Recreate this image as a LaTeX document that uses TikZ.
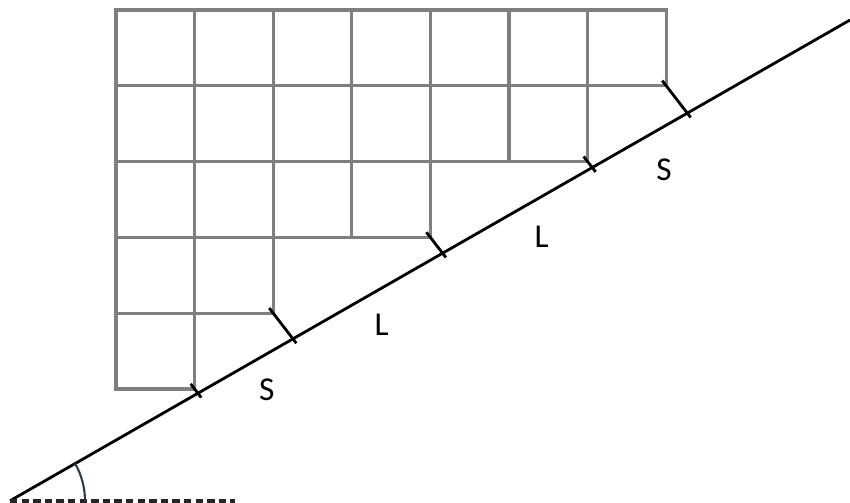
\documentclass[tikz,border=0pt]{standalone}
\usepackage{fontspec}
\setmainfont{Carlito}
\usetikzlibrary{calc}
\definecolor{stairGrey}{HTML}{7F7F7F}
\definecolor{angleSlate}{HTML}{2F3A4C}

\begin{document}
\begin{tikzpicture}[font=\fontsize{9.5}{11}\selectfont,
    cell/.style={draw=stairGrey,line width=0.9pt},
    slope/.style={draw=black,line width=0.8pt},
    marker/.style={draw=black,line width=0.8pt},
    steplabel/.style={inner sep=0pt}]
  \useasboundingbox (0,0) rectangle (8.5,5.02);
  % staircase of unit cells
  \begin{scope}[shift={(1.16,1.13)},x=0.786cm,y=0.758cm]
    \foreach \row/\len in {0/1,1/2,2/4,3/6,4/7}
      \foreach \col in {1,...,\len}
        \draw[cell] (\col-1,\row) rectangle ++(1,1);
    \foreach \n/\cx/\cy in {1/1/0,2/2/1,3/4/2,4/6/3,5/7/4}
      \coordinate (c\n) at (\cx,\cy);
  \end{scope}
  % inclined line and horizontal reference
  \coordinate (lineA) at (0.10,0.012);
  \coordinate (lineB) at (8.50,4.82);
  \coordinate (baseEnd) at (2.35,0.012);
  \draw[slope] (lineA) -- (lineB);
  \draw[black!85,line width=1pt,dash pattern=on 2.1pt off 1.2pt] (lineA) -- (baseEnd);
  \draw[angleSlate,line width=0.6pt] ($(lineA)+(0.75,0)$) arc[start angle=0,end angle=29.8,radius=0.75];
  % connectors from the stair corners
  \foreach \n in {1,...,5}{
    \coordinate (d\n) at ($(c\n)+(-52.5:1)$);
    \coordinate (f\n) at (intersection cs: first line={(c\n)--(d\n)}, second line={(lineA)--(lineB)});
    \draw[marker] ($(c\n)+(127.5:0.065)$) -- ($(f\n)+(-52.5:0.055)$);
  }
  \node[steplabel] (s1) at (2.667,1.12) {S};
  \node[steplabel] (l1) at (3.817,1.77) {L};
  \node[steplabel] (l2) at (5.417,2.653) {L};
  \node[steplabel] (s2) at (6.64,3.32) {S};
\end{tikzpicture}
\end{document}
